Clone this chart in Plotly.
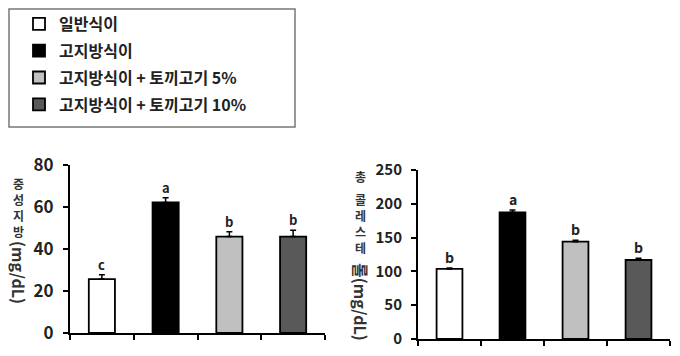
import plotly.graph_objects as go

groups = ["일반식이", "고지방식이", "고지방식이 + 토끼고기 5%", "고지방식이 + 토끼고기 10%"]
colors = ["#ffffff", "#000000", "#c0c0c0", "#595959"]

tg_values = [25.7, 62.2, 45.9, 45.9]
tg_errors = [2.0, 2.2, 2.3, 3.0]
tg_letters = ["c", "a", "b", "b"]

tc_values = [103.6, 187.4, 144.0, 116.9]
tc_errors = [1.5, 3.5, 2.0, 2.5]
tc_letters = ["b", "a", "b", "b"]

tg_title_chars = ["중", "성", "지", "방"]
tg_title_unit = "(mg/dL)"
tc_title_chars = ["총", "콜", "레", "스", "테"]
tc_title_rest = "롤(mg/dL)"

# page body has an 8px margin: the figure starts at (8, 8) in the screenshot
OFF = 8
W, H = 680 - OFF, 356 - OFF
FONT = "Noto Sans CJK KR"


def px(x):
    return (x - OFF) / W


def py(y):
    return 1 - (y - OFF) / H


fig = go.Figure()
for i, g in enumerate(groups):
    fig.add_trace(go.Bar(
        x=[i], y=[tg_values[i]], name=g, legendgroup=g,
        marker=dict(color=colors[i], line=dict(color="black", width=1.8)),
        width=0.41,
        error_y=dict(type="data", array=[tg_errors[i]], arrayminus=[0], symmetric=False,
                     color="black", thickness=1.5, width=3),
        xaxis="x", yaxis="y", showlegend=True,
    ))
    fig.add_trace(go.Bar(
        x=[i], y=[tc_values[i]], name=g, legendgroup=g,
        marker=dict(color=colors[i], line=dict(color="black", width=1.8)),
        width=0.41,
        error_y=dict(type="data", array=[tc_errors[i]], arrayminus=[0], symmetric=False,
                     color="black", thickness=1.5, width=3),
        xaxis="x2", yaxis="y2", showlegend=False,
    ))

annotations = []
for i in range(len(groups)):
    annotations.append(dict(x=i, y=tg_values[i] + tg_errors[i], xref="x", yref="y",
                            text=tg_letters[i], showarrow=False, xanchor="center",
                            yanchor="bottom", yshift=-1,
                            font=dict(family=FONT, size=13, color="#222", weight="bold")))
    annotations.append(dict(x=i, y=tc_values[i] + tc_errors[i], xref="x2", yref="y2",
                            text=tc_letters[i], showarrow=False, xanchor="center",
                            yanchor="bottom", yshift=-1,
                            font=dict(family=FONT, size=14, color="#222", weight="bold")))

title_font = dict(family=FONT, size=12, color="#333", weight="bold")
unit_font = dict(family=FONT, size=16, color="#333", weight="bold")
for ch, yy in zip(tg_title_chars, [183, 199, 215, 231]):
    annotations.append(dict(x=px(18), y=py(yy), xref="paper", yref="paper", text=ch,
                            xanchor="center", yanchor="middle", showarrow=False, font=title_font))
annotations.append(dict(x=px(19), y=py(272), xref="paper", yref="paper", text=tg_title_unit,
                        textangle=90, xanchor="center", yanchor="middle", showarrow=False,
                        font=unit_font))
for ch, yy in zip(tc_title_chars, [176, 199, 215, 231, 247]):
    annotations.append(dict(x=px(360), y=py(yy), xref="paper", yref="paper", text=ch,
                            xanchor="center", yanchor="middle", showarrow=False, font=title_font))
annotations.append(dict(x=px(361), y=py(302), xref="paper", yref="paper", text=tc_title_rest,
                        textangle=90, xanchor="center", yanchor="middle", showarrow=False,
                        font=unit_font))

xcommon = dict(type="linear", range=[-0.5, 3.5], showticklabels=False, showgrid=False,
               zeroline=False, showline=True, linecolor="black", linewidth=2,
               tickmode="array", tickvals=[-0.5, 0.5, 1.5, 2.5, 3.5],
               ticks="outside", ticklen=5, tickwidth=2, tickcolor="black")
ycommon = dict(showgrid=False, zeroline=False, showline=True, linecolor="black", linewidth=2,
               ticks="outside", ticklen=5, tickwidth=2, tickcolor="black",
               ticklabelstandoff=6)

fig.update_layout(
    width=W, height=H,
    margin=dict(l=0, r=0, t=0, b=0, pad=0, autoexpand=False),
    paper_bgcolor="white", plot_bgcolor="white",
    barmode="overlay",
    xaxis=dict(domain=[px(70), px(325)], anchor="y", **xcommon),
    yaxis=dict(domain=[py(333), py(165)], range=[0, 80], dtick=20, anchor="x",
               tickfont=dict(family=FONT, size=17, color="#222", weight="bold"), **ycommon),
    xaxis2=dict(domain=[px(418), px(670)], anchor="y2", **xcommon),
    yaxis2=dict(domain=[py(339), py(170)], range=[0, 250], dtick=50, anchor="x2",
                tickfont=dict(family=FONT, size=15, color="#222", weight="bold"), **ycommon),
    legend=dict(x=px(19), y=py(7), xanchor="left", yanchor="top",
                borderwidth=0, bgcolor="rgba(0,0,0,0)",
                font=dict(family=FONT, size=16, color="#222", weight="bold"),
                traceorder="grouped", tracegroupgap=3, itemwidth=30),
    shapes=[dict(type="rect", xref="paper", yref="paper",
                 x0=px(9), x1=px(295), y0=py(127), y1=py(9),
                 line=dict(color="#777", width=1.5), fillcolor="rgba(0,0,0,0)", layer="below")],
    annotations=annotations,
    showlegend=True,
)

fig.write_html("out.html")
